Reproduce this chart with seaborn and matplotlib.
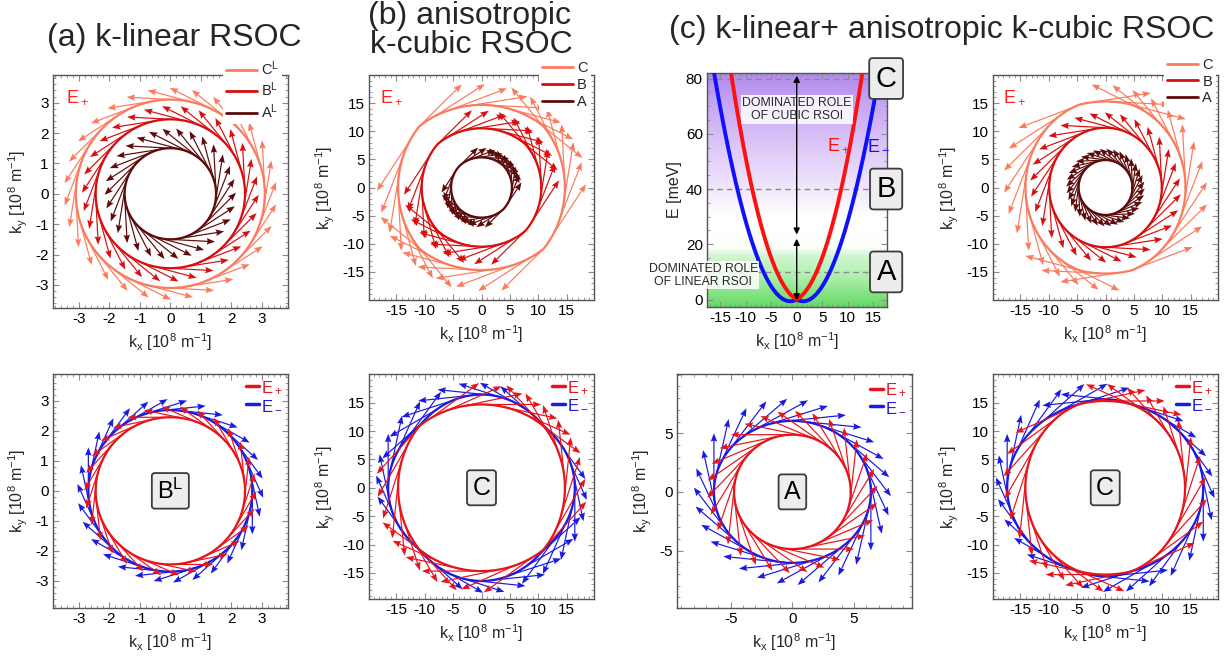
import numpy as np
import pandas as pd
import matplotlib
matplotlib.use("Agg")
import matplotlib.pyplot as plt
import seaborn as sns
from matplotlib.lines import Line2D
from matplotlib.ticker import FixedLocator, AutoMinorLocator

# ------------------------------------------------------------------
# Model parameters and values (k in 1e8 1/m, E in meV)
# E_pm(k, phi) = c k^2 +/- |alpha k + beta k^3 cos(2 phi)|
# ------------------------------------------------------------------
levels = ["A", "B", "C"]
level_energy = [10.0, 40.0, 80.0]          # constant-energy cuts

kin_c = 0.336                              # kinetic prefactor
alpha_lin = 0.47                           # k-linear RSOC
beta_cub = 0.0024                          # anisotropic k-cubic RSOC

# dispersion along kx (panel with the energy bands)
disp_c = 0.40
disp_alpha = 1.0
disp_beta = 0.0015
disp_labels = ["E$_+$", "E$_-$"]

# pure k-linear case: radii of the constant-energy circles
lin_radius_plus = [1.50, 2.45, 3.10]       # A^L, B^L, C^L  (E+)
lin_radius_minus_B = 2.69                  # B^L (E-)

# spin-arrow lengths per contour A, B, C
arrow_len_lin = [1.55, 1.55, 1.60]
arrow_len_cub = [4.6, 8.5, 10.5]
arrow_len_mix = [5.0, 8.5, 10.5]
n_arrows = [30, 30, 30]
n_arrows_mix = [36, 30, 30]

# bottom row: (E+ length, E- length)
arrow_len_lin_pm = [1.40, 1.45]
arrow_len_cub_pm = [10.5, 9.5]
arrow_len_mixA_pm = [5.0, 5.0]
arrow_len_mixC_pm = [10.5, 9.5]

# tick values
ticks_lin = [-3, -2, -1, 0, 1, 2, 3]
ticks_big = [-15, -10, -5, 0, 5, 10, 15]
ticks_small = [-5, 0, 5]
ticks_energy = [0, 20, 40, 60, 80]

level_colors = {"A": "#5c0b0b", "B": "#d70f0f", "C": "#fb7b5e"}
col_plus = "#e8141b"
col_minus = "#1a1ae0"

# background of the band panel: energy stops and RGB colours
bg_energy = [-3, 0, 8, 16, 17.5, 19, 30, 38, 55, 70, 83]
bg_rgb = [(100, 215, 100), (118, 224, 118), (172, 238, 172), (212, 246, 212),
          (232, 250, 232), (253, 255, 253), (255, 255, 255), (243, 236, 252),
          (222, 200, 248), (198, 168, 243), (176, 136, 236)]

# ------------------------------------------------------------------
sns.set_theme(style="white")
plt.rcParams["font.family"] = ["Liberation Sans", "DejaVu Sans"]
plt.rcParams["mathtext.fontset"] = "custom"
plt.rcParams["mathtext.rm"] = "Liberation Sans"
plt.rcParams["mathtext.it"] = "Liberation Sans:italic"
plt.rcParams["mathtext.bf"] = "Liberation Sans:bold"
plt.rcParams["mathtext.default"] = "regular"
plt.rcParams["axes.unicode_minus"] = False

W, H = 1231, 666
fig = plt.figure(figsize=(W / 100, H / 100), dpi=100)
fig.patch.set_facecolor("white")


def add_axes_px(x0, y0, x1, y1):
    return fig.add_axes([x0 / W, 1 - y1 / H, (x1 - x0) / W, (y1 - y0) / H])


def style_frame(ax, xlim, ylim, xticks, yticks, xminor=5, yminor=5):
    ax.set_xlim(*xlim)
    ax.set_ylim(*ylim)
    ax.xaxis.set_major_locator(FixedLocator(xticks))
    ax.yaxis.set_major_locator(FixedLocator(yticks))
    ax.xaxis.set_minor_locator(AutoMinorLocator(xminor))
    ax.yaxis.set_minor_locator(AutoMinorLocator(yminor))
    ax.tick_params(which="both", direction="in", top=True, right=True,
                   bottom=True, left=True, color="#8c8c8c",
                   labelsize=11, pad=3, labelcolor="black")
    ax.tick_params(which="major", length=4.5, width=0.8)
    ax.tick_params(which="minor", length=2.5, width=0.6)
    for sp in ax.spines.values():
        sp.set_visible(True)
        sp.set_color("#555555")
        sp.set_linewidth(1.0)
    ax.set_facecolor("white")


def k_labels(ax):
    ax.set_xlabel("k$_x$ [10$^8$ m$^{-1}$]", fontsize=11.5, labelpad=4)
    ax.set_ylabel("k$_y$ [10$^8$ m$^{-1}$]", fontsize=11.5, labelpad=4)


def omega(k, phi, alpha, beta):
    return alpha * k + beta * k ** 3 * np.cos(2 * phi)


def contour_radius(E, phi, branch, alpha, beta, c=kin_c, kmax=40.0):
    phi = np.asarray(phi, dtype=float)
    lo = np.zeros_like(phi)
    hi = np.full_like(phi, kmax)
    for _ in range(60):
        mid = 0.5 * (lo + hi)
        val = c * mid ** 2 + branch * np.abs(omega(mid, phi, alpha, beta)) - E
        hi = np.where(val > 0, mid, hi)
        lo = np.where(val > 0, lo, mid)
    return 0.5 * (lo + hi)


def draw_contour(ax, radius_fn, color, lw=1.6, z=2):
    phi = np.linspace(0, 2 * np.pi, 721)
    r = radius_fn(phi)
    df = pd.DataFrame({"kx": r * np.cos(phi), "ky": r * np.sin(phi)})
    sns.lineplot(data=df, x="kx", y="ky", sort=False, estimator=None,
                 color=color, lw=lw, ax=ax, legend=False, zorder=z)


def draw_arrows(ax, radius_fn, sign_fn, n, length, color, offset=0.0, z=3):
    phi = (np.arange(n) + offset) * 2 * np.pi / n
    r = radius_fn(phi)
    s = sign_fn(r, phi)
    x, y = r * np.cos(phi), r * np.sin(phi)
    u, v = -length * s * np.sin(phi), length * s * np.cos(phi)
    ax.quiver(x, y, u, v, angles="xy", scale_units="xy", scale=1,
              color=color, units="dots", width=1.2, headwidth=5.4,
              headlength=7.0, headaxislength=6.2, zorder=z)


def level_box(ax, x, y, label, size, transform=None, z=6):
    kw = dict(ha="center", va="center", fontsize=size, color="black", zorder=z,
              bbox=dict(boxstyle="round,pad=0.22,rounding_size=0.12",
                        fc="#ededed", ec="#3c3c3c", lw=1.3),
              clip_on=False)
    if transform is not None:
        kw["transform"] = transform
    ax.text(x, y, label, **kw)


def top_legend(ax, labels, anchor):
    handles = [Line2D([], [], color=level_colors[l], lw=2.0) for l in ["C", "B", "A"]]
    leg = ax.legend(handles, labels, loc="upper right", bbox_to_anchor=anchor,
                    fontsize=10.5, handlelength=2.1, handletextpad=0.3,
                    labelspacing=0.2, borderpad=0.2, borderaxespad=0,
                    frameon=True, fancybox=False, edgecolor="none",
                    facecolor="white", framealpha=1.0)
    leg.set_zorder(10)


def pm_legend(ax, anchor):
    handles = [Line2D([], [], color=col_plus, lw=2.5),
               Line2D([], [], color=col_minus, lw=2.5)]
    leg = ax.legend(handles, ["E$_+$", "E$_-$"], loc="upper right",
                    bbox_to_anchor=anchor, fontsize=12, handlelength=0.75,
                    handletextpad=0.15, labelspacing=0.1, borderpad=0.1,
                    borderaxespad=0, frameon=False, labelcolor="linecolor")
    leg.set_zorder(10)


def eplus_tag(ax, x, y):
    ax.text(x, y, "E$_+$", transform=ax.transAxes, color="#ff1f1f",
            fontsize=13, ha="left", va="center", zorder=8)


# ------------------------------------------------------------------
# (a) k-linear RSOC, E+ spin texture
# ------------------------------------------------------------------
ax1 = add_axes_px(53, 75, 288, 308)
for i in [2, 1, 0]:
    lv = levels[i]
    rad = lin_radius_plus[i]
    fn = (lambda p, rad=rad: np.full_like(p, rad))
    draw_contour(ax1, fn, level_colors[lv])
    draw_arrows(ax1, fn, lambda r, p: np.ones_like(p), n_arrows[i],
                arrow_len_lin[i], level_colors[lv], offset=0.25)
style_frame(ax1, (-3.85, 3.86), (-3.76, 3.91), ticks_lin, ticks_lin)
k_labels(ax1)
top_legend(ax1, ["C$^L$", "B$^L$", "A$^L$"], (0.975, 1.08))
eplus_tag(ax1, 0.054, 0.906)

# ------------------------------------------------------------------
# (b) anisotropic k-cubic RSOC, E+ spin texture
# ------------------------------------------------------------------
ax2 = add_axes_px(369, 75, 594, 300)
for i in [2, 1, 0]:
    lv = levels[i]
    E = level_energy[i]
    fn = (lambda p, E=E: contour_radius(E, p, +1, 0.0, beta_cub))
    sg = (lambda r, p: np.sign(omega(r, p, 0.0, beta_cub)))
    draw_contour(ax2, fn, level_colors[lv])
    draw_arrows(ax2, fn, sg, n_arrows[i], arrow_len_cub[i], level_colors[lv],
                offset=0.25)
style_frame(ax2, (-19.8, 19.8), (-20.0, 20.0), ticks_big, ticks_big)
k_labels(ax2)
top_legend(ax2, ["C", "B", "A"], (0.985, 1.075))
eplus_tag(ax2, 0.049, 0.904)

# ------------------------------------------------------------------
# (c) energy bands along kx
# ------------------------------------------------------------------
ax3 = add_axes_px(707, 73, 887, 307)
xl3, yl3 = (-17.55, 17.67), (-2.7, 82.0)
Egrid = np.linspace(yl3[0], yl3[1], 500)
rgb = np.stack([np.interp(Egrid, bg_energy, ch) for ch in zip(*bg_rgb)], axis=-1) / 255.0
ax3.imshow(rgb[:, None, :], extent=[xl3[0], xl3[1], yl3[0], yl3[1]],
           origin="lower", aspect="auto", zorder=0, interpolation="bilinear")

kx = np.linspace(-18.5, 18.5, 741)
g = disp_alpha * np.abs(kx) + disp_beta * np.abs(kx) ** 3
bands = pd.concat([
    pd.DataFrame({"kx": kx, "E": disp_c * kx ** 2 + g, "band": disp_labels[0]}),
    pd.DataFrame({"kx": kx, "E": disp_c * kx ** 2 - g, "band": disp_labels[1]}),
])
for E in level_energy:
    ax3.axhline(E, color="#8a8a8a", ls=(0, (4, 3)), lw=1.0, zorder=1)
sns.lineplot(data=bands, x="kx", y="E", hue="band",
             palette={disp_labels[0]: "#ff1010", disp_labels[1]: "#1010ff"},
             hue_order=[disp_labels[1], disp_labels[0]],
             lw=2.8, legend=False, ax=ax3, zorder=3)
style_frame(ax3, xl3, yl3, ticks_big, ticks_energy, 5, 4)
ax3.set_xlabel("k$_x$ [10$^8$ m$^{-1}$]", fontsize=11.5, labelpad=4)
ax3.set_ylabel("E [meV]", fontsize=11.5, labelpad=3)

arrow_kw = dict(arrowstyle="<|-|>", color="black", lw=1.0, mutation_scale=9,
                shrinkA=0, shrinkB=0)
ax3.annotate("", xy=(0, 81.0), xytext=(0, 23.5), arrowprops=arrow_kw, zorder=5)
ax3.annotate("", xy=(0, 22.0), xytext=(0, -0.3), arrowprops=arrow_kw, zorder=5)

ax3.text(0.0, 68.8, "DOMINATED ROLE\nOF CUBIC RSOI", ha="center", va="center",
         fontsize=8.8, linespacing=1.15, zorder=4,
         bbox=dict(boxstyle="square,pad=0.12", fc="white", ec="none", alpha=0.85))
ax3.text(-18.3, 8.8, "DOMINATED ROLE\nOF LINEAR RSOI", ha="center", va="center",
         fontsize=8.8, linespacing=1.15, zorder=4, clip_on=False,
         bbox=dict(boxstyle="square,pad=0.12", fc="white", ec="none", alpha=0.85))
ax3.text(5.9, 56.0, "E$_+$", color="#ff1010", fontsize=13, ha="left", va="center", zorder=5)
ax3.text(13.7, 56.0, "E$_-$", color="#1010ff", fontsize=13, ha="left", va="center", zorder=5)
for lv, E in zip(levels, level_energy):
    level_box(ax3, 17.5, E, lv, 21)

# ------------------------------------------------------------------
# (c) k-linear + anisotropic k-cubic, E+ spin texture
# ------------------------------------------------------------------
ax4 = add_axes_px(993, 75, 1218, 300)
for i in [2, 1, 0]:
    lv = levels[i]
    E = level_energy[i]
    fn = (lambda p, E=E: contour_radius(E, p, +1, alpha_lin, beta_cub))
    sg = (lambda r, p: np.sign(omega(r, p, alpha_lin, beta_cub)))
    draw_contour(ax4, fn, level_colors[lv])
    draw_arrows(ax4, fn, sg, n_arrows_mix[i], arrow_len_mix[i],
                level_colors[lv], offset=0.25)
style_frame(ax4, (-19.8, 19.8), (-20.0, 20.0), ticks_big, ticks_big)
k_labels(ax4)
top_legend(ax4, ["C", "B", "A"], (0.99, 1.09))
eplus_tag(ax4, 0.044, 0.904)


# ------------------------------------------------------------------
# bottom row: E+ and E- at one energy
# ------------------------------------------------------------------
def pm_panel(ax, rad_plus, rad_minus, sign_fn, lengths, n=30):
    draw_contour(ax, rad_minus, col_minus, lw=1.6, z=2)
    draw_arrows(ax, rad_minus, lambda r, p: -sign_fn(r, p), n, lengths[1],
                col_minus, offset=0.0, z=3)
    draw_contour(ax, rad_plus, col_plus, lw=1.6, z=4)
    draw_arrows(ax, rad_plus, sign_fn, n, lengths[0], col_plus,
                offset=0.5, z=5)


ax5 = add_axes_px(53, 374, 288, 608)
pm_panel(ax5,
         lambda p: np.full_like(p, lin_radius_plus[1]),
         lambda p: np.full_like(p, lin_radius_minus_B),
         lambda r, p: np.ones_like(p), arrow_len_lin_pm)
style_frame(ax5, (-3.85, 3.86), (-3.9, 3.89), ticks_lin, ticks_lin)
k_labels(ax5)
pm_legend(ax5, (0.985, 0.985))
level_box(ax5, 0, 0, "B$^L$", 17)

ax6 = add_axes_px(369, 374, 594, 599)
E_C = level_energy[2]
pm_panel(ax6,
         lambda p: contour_radius(E_C, p, +1, 0.0, beta_cub),
         lambda p: contour_radius(E_C, p, -1, 0.0, beta_cub),
         lambda r, p: np.sign(omega(r, p, 0.0, beta_cub)), arrow_len_cub_pm)
style_frame(ax6, (-19.8, 19.8), (-19.6, 20.05), ticks_big, ticks_big)
k_labels(ax6)
pm_legend(ax6, (0.985, 0.985))
level_box(ax6, 0, 0, "C", 18)

ax7 = add_axes_px(677, 374, 912, 608)
E_A = level_energy[0]
pm_panel(ax7,
         lambda p: contour_radius(E_A, p, +1, alpha_lin, beta_cub),
         lambda p: contour_radius(E_A, p, -1, alpha_lin, beta_cub),
         lambda r, p: np.sign(omega(r, p, alpha_lin, beta_cub)), arrow_len_mixA_pm)
style_frame(ax7, (-9.36, 9.7), (-9.9, 10.05), ticks_small, ticks_small)
k_labels(ax7)
pm_legend(ax7, (0.985, 0.975))
level_box(ax7, 0, 0, "A", 18)

ax8 = add_axes_px(993, 374, 1218, 599)
pm_panel(ax8,
         lambda p: contour_radius(E_C, p, +1, alpha_lin, beta_cub),
         lambda p: contour_radius(E_C, p, -1, alpha_lin, beta_cub),
         lambda r, p: np.sign(omega(r, p, alpha_lin, beta_cub)), arrow_len_mixC_pm)
style_frame(ax8, (-19.8, 19.9), (-19.6, 20.05), ticks_big, ticks_big)
k_labels(ax8)
pm_legend(ax8, (0.985, 0.985))
level_box(ax8, 0, 0, "C", 18)

# ------------------------------------------------------------------
# column titles
# ------------------------------------------------------------------
fig.text(174 / W, 1 - 38 / H, "(a) k-linear RSOC", ha="center", va="center", fontsize=23)
fig.text(470 / W, 1 - 16 / H, "(b) anisotropic", ha="center", va="center", fontsize=23)
fig.text(471 / W, 1 - 45 / H, "k-cubic RSOC", ha="center", va="center", fontsize=23)
fig.text(942 / W, 1 - 30 / H, "(c) k-linear+ anisotropic k-cubic RSOC",
         ha="center", va="center", fontsize=23)

fig.savefig("out.png", dpi=100, facecolor="white")
